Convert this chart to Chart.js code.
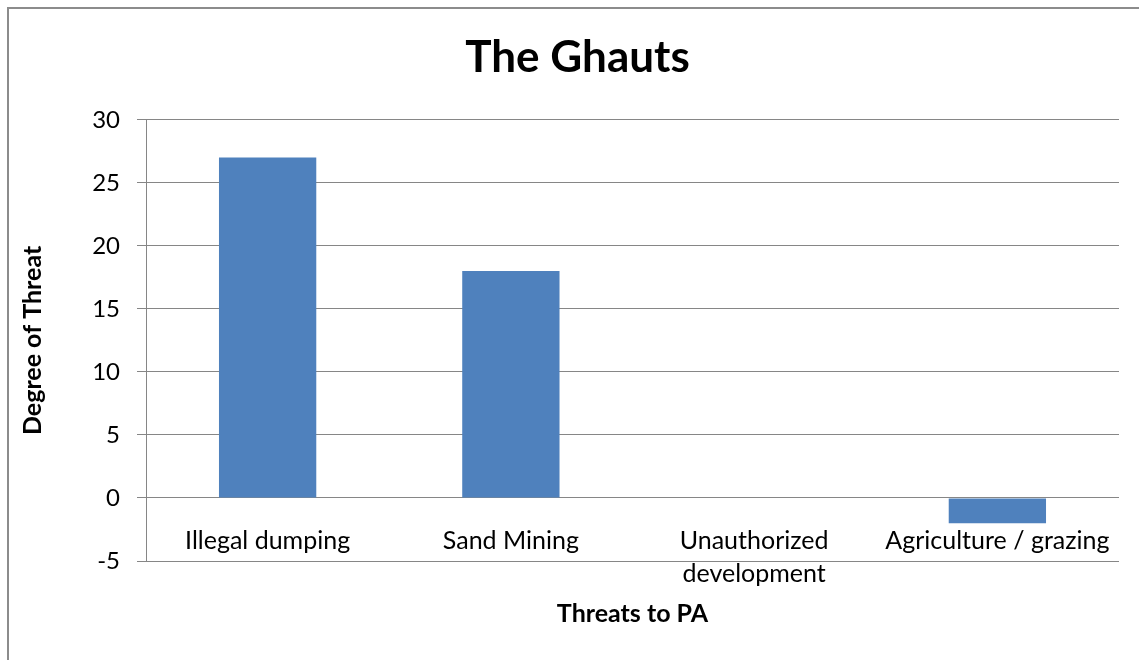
<!DOCTYPE html>
<html>
<head>
<meta charset="utf-8">
<script src="https://cdn.jsdelivr.net/npm/chart.js@4/dist/chart.umd.min.js"></script>
<style>
html, body { margin: 0; padding: 0; background: #fff; overflow: hidden; }
#wrap { position: relative; width: 1139px; height: 660px; overflow: hidden; }
#c { position: absolute; left: 0; top: 0; }
#frame { position: absolute; left: 7px; top: 7px; width: 1200px; height: 800px; border: 2px solid #8c8c8c; pointer-events: none; box-sizing: border-box; }
</style>
</head>
<body>
<div id="wrap">
  <canvas id="c" width="1155" height="660"></canvas>
  <div id="frame"></div>
</div>
<script>
const chartTitle = 'The Ghauts';
const xAxisTitle = 'Threats to PA';
const yAxisTitle = 'Degree of Threat';
const categories = ['Illegal dumping', 'Sand Mining', ['Unauthorized', 'development'], 'Agriculture / grazing'];
const threatValues = [27, 18, 0, -2];
const yMin = -5;
const yMax = 30;
const yStep = 5;

const FONT = 'Lato';
const GRID = '#868686';

new Chart(document.getElementById('c'), {
  type: 'bar',
  data: {
    labels: categories,
    datasets: [{
      label: yAxisTitle,
      data: threatValues,
      backgroundColor: '#4F81BD',
      borderWidth: 0,
      categoryPercentage: 1.0,
      barPercentage: 0.4
    }]
  },
  options: {
    responsive: false,
    animation: false,
    layout: { padding: { left: 36, right: 36, top: 0, bottom: 0 } },
    plugins: {
      legend: { display: false },
      tooltip: { enabled: false },
      title: {
        display: true,
        text: chartTitle,
        color: '#000',
        font: { family: FONT, size: 44, weight: 'bold', lineHeight: 1.2 },
        padding: { top: 31, bottom: 36 }
      }
    },
    scales: {
      y: {
        min: yMin,
        max: yMax,
        afterFit: (s) => { s.width = 110; },
        ticks: { stepSize: yStep, color: '#000', font: { family: FONT, size: 24 }, padding: 17 },
        grid: { color: GRID, lineWidth: 1, tickLength: 9, drawTicks: true },
        border: { display: true, color: GRID, width: 1 },
        title: {
          display: true,
          text: yAxisTitle,
          color: '#000',
          font: { family: FONT, size: 25, weight: 'bold', lineHeight: 1.2 },
          padding: { top: -18, bottom: 0 }
        }
      },
      x: {
        position: { y: 0 },
        offset: true,
        grid: { display: false, drawTicks: false },
        border: { display: false },
        ticks: {
          color: '#000',
          font: { family: FONT, size: 25, lineHeight: 1.32 },
          padding: 26,
          maxRotation: 0,
          autoSkip: false
        }
      },
      x2: {
        type: 'category',
        position: 'bottom',
        afterFit: (s) => { s.height = 99; },
        grid: { display: false, drawTicks: false },
        border: { display: false },
        ticks: { display: false },
        title: {
          display: true,
          text: xAxisTitle,
          color: '#000',
          font: { family: FONT, size: 25, weight: 'bold', lineHeight: 1.2 },
          padding: { top: 0, bottom: 31 }
        }
      }
    }
  }
});
</script>
</body>
</html>
